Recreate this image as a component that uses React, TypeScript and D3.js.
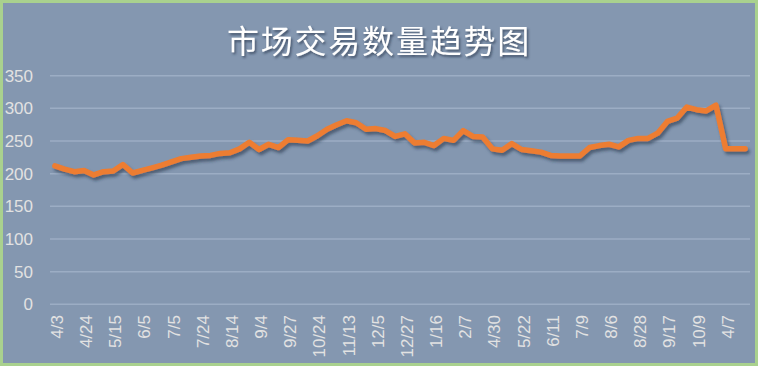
import * as d3 from "d3";

// categories (weekly-ish dates, every 3rd one shown on the axis)
const categories = [
  "4/3", "4/10", "4/17", "4/24", "5/1", "5/8", "5/15", "5/22", "5/29", "6/5", "6/15", "6/25",
  "7/5", "7/11", "7/17", "7/24", "7/31", "8/7", "8/14", "8/21", "8/28", "9/4", "9/11", "9/18",
  "9/27", "10/10", "10/17", "10/24", "10/31", "11/6", "11/13", "11/20", "11/27", "12/5", "12/12", "12/19",
  "12/27", "1/3", "1/9", "1/16", "1/23", "1/30", "2/7", "3/13", "4/17", "4/30", "5/8", "5/15",
  "5/22", "5/29", "6/5", "6/11", "6/20", "6/30", "7/9", "7/17", "7/24", "8/6", "8/14", "8/21",
  "8/28", "9/4", "9/11", "9/17", "9/24", "10/1", "10/9", "10/16", "10/23", "4/7", "4/14", "4/21",
];

const values = [
  212, 207, 203, 205, 198, 203, 204, 214, 201, 205, 209, 213,
  218, 223, 225, 227, 228, 231, 232, 238, 248, 237, 245, 240,
  252, 251, 250, 258, 268, 275, 281, 278, 268, 269, 266, 257,
  261, 247, 248, 243, 254, 251, 266, 257, 256, 238, 236, 246,
  237, 235, 233, 228, 227, 227, 227, 240, 243, 245, 241, 251,
  254, 254, 262, 280, 285, 302, 298, 296, 305, 238, 238, 238,
];

const yTicks = [0, 50, 100, 150, 200, 250, 300, 350];

const W = 758;
const H = 366;

export default function App() {
  const x = d3
    .scaleBand<number>()
    .domain(d3.range(categories.length))
    .range([50, 750]);
  const bw = x.bandwidth();
  const cx = (i: number) => (x(i) ?? 0) + bw / 2;

  const y = d3.scaleLinear().domain([0, 350]).range([304.3, 75.7]);

  const line = d3
    .line<number>()
    .x((d, i) => cx(i))
    .y((d) => y(d));

  const font = "'Liberation Sans', Arial, sans-serif";

  return (
    <div style={{ position: "fixed", left: 0, top: 0 }}>
      <svg width={W} height={H} style={{ display: "block" }}>
        <defs>
          <filter id="lineShadow" x="-10%" y="-30%" width="120%" height="160%">
            <feDropShadow dx="2" dy="3" stdDeviation="1.6" floodColor="#1f2d44" floodOpacity="0.55" />
          </filter>
          <filter id="titleShadow" x="-10%" y="-30%" width="120%" height="160%">
            <feDropShadow dx="1.5" dy="2" stdDeviation="1.2" floodColor="#2a3850" floodOpacity="0.7" />
          </filter>
        </defs>

        {/* background + green frame */}
        <rect x={1.5} y={1.5} width={W - 3} height={H - 3} fill="#8497B0" stroke="#A9D18E" strokeWidth={3} />

        {/* title */}
        <text
          x={W / 2}
          y={53}
          textAnchor="middle"
          fill="#ffffff"
          fontSize={32}
          letterSpacing={1.8}
          fontFamily="'Noto Sans CJK SC', sans-serif"
          filter="url(#titleShadow)"
        >
          市场交易数量趋势图
        </text>

        {/* gridlines + y labels */}
        {yTicks.map((t) => (
          <g key={t}>
            <line x1={50} x2={750} y1={y(t)} y2={y(t)} stroke="#9CADC4" strokeWidth={1.5} />
            <text
              x={33}
              y={y(t)}
              dy="0.35em"
              textAnchor="end"
              fill="#E2E2E2"
              fontSize={17}
              fontFamily={font}
            >
              {t}
            </text>
          </g>
        ))}

        {/* x labels */}
        {categories.map((c, i) =>
          i % 3 === 0 ? (
            <text
              key={i}
              transform={`translate(${cx(i) + 8},315) rotate(-90)`}
              textAnchor="end"
              fill="#E2E2E2"
              fontSize={17}
              fontFamily={font}
            >
              {c}
            </text>
          ) : null
        )}

        {/* series */}
        <path
          d={line(values) ?? ""}
          fill="none"
          stroke="#ED7D31"
          strokeWidth={5.5}
          strokeLinejoin="round"
          strokeLinecap="round"
          filter="url(#lineShadow)"
        />
      </svg>
    </div>
  );
}
